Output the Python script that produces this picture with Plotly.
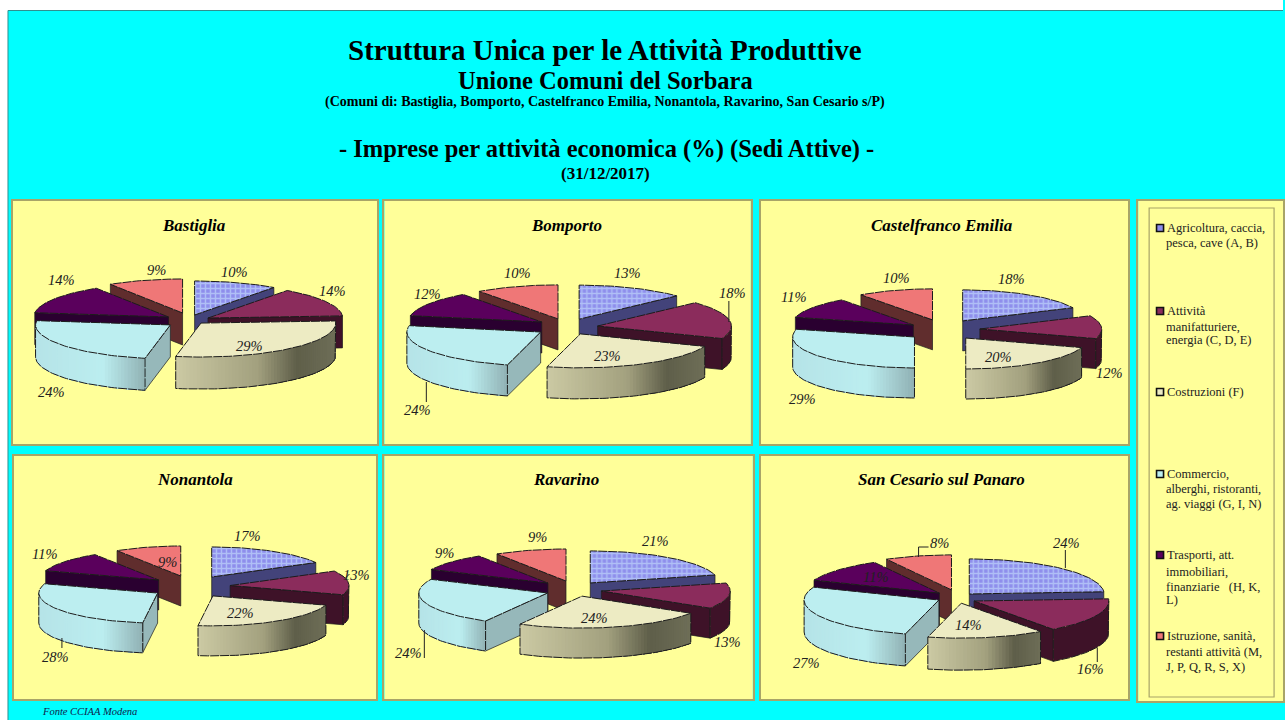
import math
import plotly.graph_objects as go

# ---- data ---------------------------------------------------------------
CATEGORIES = [
    "Agricoltura, caccia, pesca, cave (A, B)",
    "Attività manifatturiere, energia (C, D, E)",
    "Costruzioni (F)",
    "Commercio, alberghi, ristoranti, ag. viaggi (G, I, N)",
    "Trasporti, att. immobiliari, finanziarie (H, K, L)",
    "Istruzione, sanità, restanti attività (M, J, P, Q, R, S, X)",
]
COMUNI = ["Bastiglia", "Bomporto", "Castelfranco Emilia",
          "Nonantola", "Ravarino", "San Cesario sul Panaro"]
BASTIGLIA = [10, 14, 29, 24, 14, 9]
BOMPORTO = [13, 18, 23, 24, 12, 10]
CASTELFRANCO = [18, 12, 20, 29, 11, 10]
NONANTOLA = [17, 13, 22, 28, 11, 9]
RAVARINO = [21, 13, 24, 24, 9, 9]
SAN_CESARIO = [24, 16, 14, 27, 11, 8]
VALUES = [BASTIGLIA, BOMPORTO, CASTELFRANCO, NONANTOLA, RAVARINO, SAN_CESARIO]

LEGEND_LINES = [
    ["Agricoltura, caccia,", "pesca, cave (A, B)"],
    ["Attività", "manifatturiere,", "energia (C, D, E)"],
    ["Costruzioni (F)"],
    ["Commercio,", "alberghi, ristoranti,", "ag. viaggi (G, I, N)"],
    ["Trasporti, att.", "immobiliari,", "finanziarie   (H, K,", "L)"],
    ["Istruzione, sanità,", "restanti attività (M,", "J, P, Q, R, S, X)"],
]

# ---- page layout, in page pixels ------------------------------------------
W, H = 1285, 720
SERIF = "Liberation Serif"
CYAN = "#00FFFF"
PANEL_BG = "#FFFF99"
FRAME = "#A8A468"
INK = "#1c1c1c"

PANELS = [(12, 379, 200, 445), (384, 753, 200, 445), (761, 1131, 200, 445),
          (13, 378, 455, 700), (384, 755, 455, 700), (761, 1131, 455, 700)]
LEGEND_BOX = (1139, 1287, 200, 702)

# centre, radii and wall depth of each pie, plus how far every slice is pulled
# out horizontally and vertically, as a share of the radius
PIES = [
    dict(c=(187, 319.5), r=(135, 34), d=32,
         pull_x=[.19, .18, .16, .15, .16, .11], pull_y=[.14, .09, .14, .27, .14, .20]),
    dict(c=(563, 326), r=(134, 34), d=31,
         pull_x=[.32, .27, .30, .19, .18, .10], pull_y=[.22, .00, .26, .33, .22, .22]),
    dict(c=(940, 329), r=(122, 31), d=30,
         pull_x=[.37, .34, .38, .25, .25, .16], pull_y=[.31, .00, .36, .42, .23, .31]),
    dict(c=(189, 585.5), r=(119, 30), d=30,
         pull_x=[.38, .35, .38, .31, .32, .24], pull_y=[.33, .00, .41, .47, .30, .33]),
    dict(c=(573, 589), r=(129, 32), d=30,
         pull_x=[.23, .23, .31, .20, .25, .17], pull_y=[.24, .40, .23, .40, .28, .26]),
    dict(c=(956, 597), r=(135, 35), d=32,
         pull_x=[.16, .16, .27, .13, .15, .09], pull_y=[.12, .27, .18, .19, .17, .21]),
]

LABEL_POS = [
    [(235, 272), (333, 291), (250, 346), (52, 392), (62, 280), (157, 270)],
    [(628, 273), (734, 293), (608, 356), (418, 410), (428, 294), (518, 273)],
    [(1013, 279), (1111, 373), (1000, 357), (804, 399), (795, 297), (898, 278)],
    [(248, 536), (357, 575), (241, 613), (56, 657), (45, 554), (168, 562)],
    [(657, 541), (729, 642), (595, 618), (409, 653), (445, 553), (538, 537)],
    [(1068, 543), (1092, 669), (970, 625), (808, 663), (877, 577), (941, 543)],
]
LEADERS = [
    [],
    [[(730, 301), (730, 322)], [(427, 382), (427, 402)]],
    [],
    [[(62, 638), (62, 648)], [(346, 578), (350, 574)]],
    [[(425, 630), (425, 658)]],
    [[(920, 557), (920, 547), (930, 547)], [(1067, 550), (1067, 568)],
     [(1099, 648), (1099, 662)]],
]
TITLE_POS = [(194, 225), (567, 225), (943, 225), (195, 479), (567, 479), (943, 479)]

TOP = ["#8E8EEC", "#8B2C5C", "#EDEBC3", "#BCEEF0", "#5A005C", "#EF7777"]
WALL = ["#43437A", "#3E1228", "#A3A17F", "#BCEEF0", "#2A0030", "#602D2D"]
EDGE_WALL = ["#43437A", "#3E1228", "#8E8C6E", "#96B8BA", "#2A0030", "#602D2D"]
# colour stops along the outer wall of the slices shaded from left to right
WALL_RAMP = {
    2: [(0, "#CBC9A3"), (.5, "#A3A17F"), (.75, "#5F5F4A"), (1, "#6F6F58")],
    3: [(0, "#B6E4E8"), (.6, "#BCEEF0"), (1, "#8FAFB2")],
}
ARC_DASH = "9px,1px"


def hex_rgb(c):
    return tuple(int(c[i:i + 2], 16) for i in (1, 3, 5))


def ramp(stops, t):
    for (t0, c0), (t1, c1) in zip(stops, stops[1:]):
        if t <= t1:
            f = (t - t0) / (t1 - t0)
            a, b = hex_rgb(c0), hex_rgb(c1)
            return "rgb(%d,%d,%d)" % tuple(a[i] + (b[i] - a[i]) * f for i in range(3))
    return stops[-1][1]


def frac_x(px):
    return px / W


def frac_y(py):
    return 1 - py / H


fig = go.Figure()
annotations = []


def note(text, x, y, size, xref="paper", yref="paper", anchor="center", color="#000000"):
    if xref == "paper":
        x, y = frac_x(x), frac_y(y)
    annotations.append(dict(text=text, x=x, y=y, xref=xref, yref=yref, showarrow=False,
                            xanchor=anchor, yanchor="middle",
                            font=dict(family=SERIF, size=size, color=color)))


def poly(xs, ys, axes, fill=None, line=None, width=0.0, dash=None, pattern=None, name=None):
    kwargs = dict(x=xs, y=ys, xaxis=axes[0], yaxis=axes[1], mode="lines", showlegend=False,
                  hoverinfo="skip", name=name)
    if fill:
        kwargs.update(fill="toself", fillcolor=fill)
    if pattern:
        kwargs["fillpattern"] = pattern
    kwargs["line"] = dict(color=line or "rgba(0,0,0,0)", width=width, dash=dash)
    fig.add_trace(go.Scatter(**kwargs))


def draw_pie(values, geo, axes):
    (cx, cy), (rx, ry), depth = geo["c"], geo["r"], geo["d"]
    total = sum(values)
    slices, acc = [], 0.0
    for i, v in enumerate(values):
        a0, a1 = acc / total * 360, (acc + v) / total * 360
        acc += v
        slices.append((i, a0, a1))
    # back slices are painted first so that the front ones cover them
    slices.sort(key=lambda s: math.cos(math.radians((s[1] + s[2]) / 2)), reverse=True)

    for i, a0, a1 in slices:
        mid = math.radians((a0 + a1) / 2)
        ax = cx + geo["pull_x"][i] * rx * math.sin(mid)
        ay = cy - geo["pull_y"][i] * ry * math.cos(mid)

        def rim(a):
            r = math.radians(a)
            return ax + rx * math.sin(r), ay - ry * math.cos(r)

        n = max(2, int((a1 - a0) / 1.5))
        angles = [a0 + (a1 - a0) * k / n for k in range(n + 1)]

        # flat walls along the two cut edges
        for a, visible in ((a0, math.sin(math.radians(a0)) < -1e-6),
                           (a1, math.sin(math.radians(a1)) > 1e-6)):
            if visible:
                px, py = rim(a)
                poly([ax, px, px, ax, ax], [ay, py, py + depth, ay + depth, ay], axes,
                     fill=EDGE_WALL[i], line=INK, width=0.7)

        # curved outer wall on the near half of the ellipse
        lo, hi = max(a0, 90.0), min(a1, 270.0)
        if hi > lo:
            k = max(2, int((hi - lo) / 1.5))
            arc = [lo + (hi - lo) * j / k for j in range(k + 1)]
            pts = [rim(a) for a in arc]
            xs = [p[0] for p in pts]
            ys = [p[1] for p in pts]
            if i in WALL_RAMP:
                # overlapping bands painted from the left, so that no seam shows
                xl, xr = min(xs), max(xs)
                for edge in sorted(xs)[:-1]:
                    band_x = [x for x in xs if x >= edge]
                    band_y = [y for x, y in zip(xs, ys) if x >= edge]
                    col = ramp(WALL_RAMP[i], (edge - xl) / max(xr - xl, 1e-6))
                    poly(band_x + band_x[::-1] + band_x[:1],
                         band_y + [y + depth for y in band_y[::-1]] + band_y[:1], axes,
                         fill=col)
            else:
                poly(xs + xs[::-1] + xs[:1], ys + [y + depth for y in ys[::-1]] + ys[:1], axes,
                     fill=WALL[i])
            low = [y + depth for y in ys]
            poly([xs[0]] + xs + [xs[-1]], [ys[0]] + low + [ys[-1]], axes, line=INK, width=1.0,
                 dash=ARC_DASH)

        # upper face of the slice
        pts = [rim(a) for a in angles]
        xs = [ax] + [p[0] for p in pts] + [ax]
        ys = [ay] + [p[1] for p in pts] + [ay]
        pattern = None
        if i == 0:
            pattern = dict(shape="+", size=5, solidity=0.5, fgcolor="#CFEFFF", bgcolor=TOP[0])
        poly(xs, ys, axes, fill=TOP[i], line=INK, width=1.0, pattern=pattern,
             name=CATEGORIES[i], dash=ARC_DASH)


layout_axes = {}


def add_axes(idx, box):
    # the frame line is drawn outside the domain, hence the inset of one pixel
    x0, x1, y0, y1 = box[0] + 1, box[1] - 1, box[2] + 1, box[3] - 1
    suffix = "" if idx == 1 else str(idx)
    style = dict(showgrid=False, zeroline=False, showticklabels=False, ticks="",
                 showline=True, mirror=True, linecolor=FRAME, linewidth=2, fixedrange=True)
    layout_axes["xaxis" + suffix] = dict(domain=[frac_x(x0), min(frac_x(x1), 1)],
                                         range=[x0, x1], anchor="y" + suffix, **style)
    layout_axes["yaxis" + suffix] = dict(domain=[frac_y(y1), frac_y(y0)],
                                         range=[y1, y0], anchor="x" + suffix, **style)
    return "x" + suffix, "y" + suffix


for n, (box, values, geo) in enumerate(zip(PANELS, VALUES, PIES)):
    axes = add_axes(n + 1, box)
    draw_pie(values, geo, axes)
    for seg in LEADERS[n]:
        poly([p[0] for p in seg], [p[1] for p in seg], axes, line="#222222", width=1.0)
    note("<b><i>%s</i></b>" % COMUNI[n], TITLE_POS[n][0], TITLE_POS[n][1], 17,
         xref=axes[0], yref=axes[1])
    for v, (lx, ly) in zip(values, LABEL_POS[n]):
        note("<i>%d%%</i>" % v, lx, ly, 14.5, xref=axes[0], yref=axes[1], color="#202020")

# ---- key of the categories -----------------------------------------------
key_axes = add_axes(7, LEGEND_BOX)
LEGEND_ROWS = [[228, 243], [311, 327, 340], [392], [474, 489, 504], [555, 572, 587, 600],
               [636, 652, 667]]
for i, (lines, rows) in enumerate(zip(LEGEND_LINES, LEGEND_ROWS)):
    fig.add_trace(go.Scatter(x=[1162], y=[rows[0]], xaxis=key_axes[0], yaxis=key_axes[1],
                             mode="markers", showlegend=False, hoverinfo="skip",
                             marker=dict(symbol="square", size=7, color=TOP[i],
                                         line=dict(color="#111111", width=1.6))))
    for j, (text, row) in enumerate(zip(lines, rows)):
        note(text, 1167 if j == 0 else 1166, row, 12.5, xref=key_axes[0], yref=key_axes[1],
             anchor="left", color="#222222")

# the page itself is cyan; only a thin white margin stays at the top and on the left
shapes = [
    dict(type="rect", xref="paper", yref="paper", layer="below", x0=0, x1=1,
         y0=frac_y(10), y1=1, fillcolor="#FFFFFF", line=dict(width=0)),
    dict(type="rect", xref="paper", yref="paper", layer="below", x0=0, x1=frac_x(8),
         y0=0, y1=1, fillcolor="#FFFFFF", line=dict(width=0)),
    dict(type="line", xref="paper", yref="paper", layer="below", x0=frac_x(8), x1=1,
         y0=frac_y(10.5), y1=frac_y(10.5), line=dict(color="#2F8F8F", width=1)),
    dict(type="line", xref="paper", yref="paper", layer="below", x0=frac_x(8), x1=frac_x(8),
         y0=0, y1=frac_y(10.5), line=dict(color="#2F8F8F", width=1)),
    dict(type="rect", xref=key_axes[0], yref=key_axes[1], layer="above",
         x0=1151, x1=1277, y0=208, y1=697, line=dict(color=FRAME, width=1.2)),
]

# ---- headings -------------------------------------------------------------
note("<b>Struttura Unica per le Attività Produttive</b>", 606, 50, 29)
note("<b>Unione Comuni del Sorbara</b>", 606, 80, 24.5)
note("<b>(Comuni di: Bastiglia, Bomporto, Castelfranco Emilia, Nonantola, Ravarino, "
     "San Cesario s/P)</b>", 606, 102, 14)
note("<b>- Imprese per attività economica (%) (Sedi Attive) -</b>", 607, 149, 24.5)
note("<b>(31/12/2017)</b>", 606, 173, 17)
note("<i>Fonte CCIAA Modena</i>", 40, 711, 10.5, anchor="left", color="#10204A")

fig.update_layout(width=W, height=H, margin=dict(l=0, r=0, t=0, b=0), autosize=False,
                  paper_bgcolor=CYAN, plot_bgcolor=PANEL_BG, showlegend=False,
                  annotations=annotations, shapes=shapes, hovermode=False, **layout_axes)
fig.write_html("out.html", config=dict(displayModeBar=False))
